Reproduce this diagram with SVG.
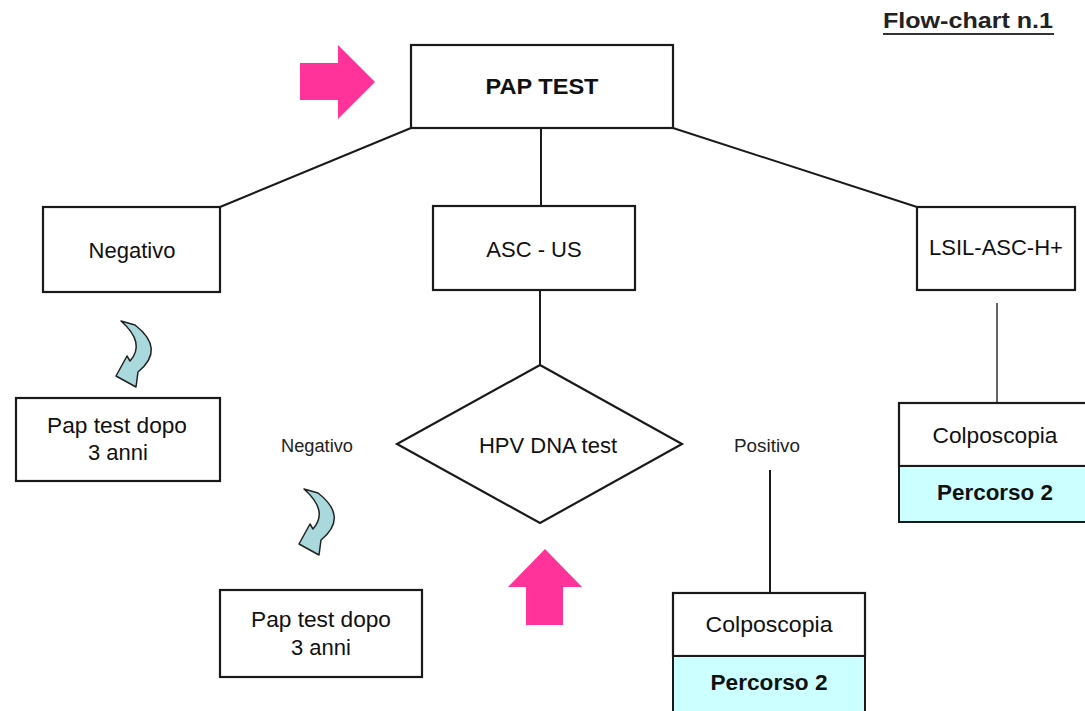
<svg xmlns="http://www.w3.org/2000/svg" width="1085" height="711" viewBox="0 0 1085 711">
<style>
.box{fill:#fff;stroke:#1a1a1a;stroke-width:2.2}
.cyan{fill:#ccffff;stroke:#1a1a1a;stroke-width:2}
.conn{stroke:#1a1a1a;stroke-width:2;fill:none}
.gconn{stroke:#666;stroke-width:2;fill:none}
.t{font-family:"Liberation Sans",Arial,sans-serif;font-size:22px;fill:#111;text-anchor:middle}
.b{font-weight:bold}
.s{font-family:"Liberation Sans",Arial,sans-serif;font-size:18px;fill:#222;text-anchor:middle}
.pink{fill:#ff3399}
.curl{fill:#a9d9dc;stroke:#222;stroke-width:1.5;stroke-linejoin:round}
</style>
<defs>
<path id="curl" class="curl" d="M121,321 L135,325 Q166,349 138,372 L136,387 L116,376 L127,356 L130,361 Q146,343 121,321 Z"/>
</defs>
<rect width="1085" height="711" fill="#fff"/>

<g id="title">
<text x="968" y="28" class="t b" font-size="20" textLength="170" lengthAdjust="spacingAndGlyphs" style="fill:#222">Flow-chart n.1</text>
<line x1="883" y1="34" x2="1054" y2="34" stroke="#333" stroke-width="2"/>
</g>

<g id="connectors">
<line class="conn" x1="411" y1="128" x2="220" y2="207"/>
<line class="conn" x1="541" y1="128" x2="541" y2="206"/>
<line class="conn" x1="673" y1="128" x2="917" y2="207"/>
<line class="conn" x1="540" y1="290" x2="540" y2="365"/>
<line class="conn" x1="770" y1="470" x2="770" y2="593"/>
<line class="gconn" x1="997" y1="303" x2="997" y2="403"/>
</g>

<g id="arrow-right">
<polygon class="pink" points="300,63 338,63 338,45 375,82 338,119 338,100 300,100"/>
</g>

<g id="pap-test">
<rect class="box" x="411" y="45" width="262" height="83"/>
<text x="542" y="94" class="t b" font-size="20" textLength="113" lengthAdjust="spacingAndGlyphs">PAP TEST</text>
</g>

<g id="negativo">
<rect class="box" x="43" y="207" width="177" height="85"/>
<text x="132" y="258" class="t">Negativo</text>
</g>

<g id="asc-us">
<rect class="box" x="433" y="206" width="202" height="84"/>
<text x="534" y="257" class="t">ASC - US</text>
</g>

<g id="lsil">
<rect class="box" x="917" y="207" width="158" height="83"/>
<text x="996" y="255" class="t">LSIL-ASC-H+</text>
</g>

<g id="curl1">
<use href="#curl"/>
</g>

<g id="pap-dopo-1">
<rect class="box" x="16" y="398" width="204" height="83"/>
<text x="117" y="433" class="t" textLength="140" lengthAdjust="spacingAndGlyphs">Pap test dopo</text>
<text x="118" y="460" class="t">3 anni</text>
</g>

<g id="hpv">
<polygon class="box" points="540,365 682,444 540,523 397,444"/>
<text x="548" y="453" class="t">HPV DNA test</text>
</g>

<g id="label-negativo">
<text x="317" y="452" class="s" textLength="72" lengthAdjust="spacingAndGlyphs">Negativo</text>
</g>

<g id="label-positivo">
<text x="767" y="452" class="s" textLength="66" lengthAdjust="spacingAndGlyphs">Positivo</text>
</g>

<g id="curl2">
<use href="#curl" transform="translate(183,168)"/>
</g>

<g id="arrow-up">
<polygon class="pink" points="545,549 582,587 563,587 563,625 526,625 526,587 508,587"/>
</g>

<g id="pap-dopo-2">
<rect class="box" x="220" y="590" width="202" height="87"/>
<text x="321" y="627" class="t" textLength="140" lengthAdjust="spacingAndGlyphs">Pap test dopo</text>
<text x="321" y="655" class="t">3 anni</text>
</g>

<g id="colpo-2">
<rect class="box" x="673" y="593" width="192" height="63"/>
<rect class="cyan" x="673" y="656" width="192" height="56"/>
<text x="769" y="632" class="t" textLength="127" lengthAdjust="spacingAndGlyphs">Colposcopia</text>
<text x="769" y="690" class="t b" textLength="117" lengthAdjust="spacingAndGlyphs">Percorso 2</text>
</g>

<g id="colpo-1">
<rect class="box" x="899" y="403" width="190" height="63"/>
<rect class="cyan" x="899" y="466" width="190" height="56"/>
<text x="995" y="443" class="t" textLength="125" lengthAdjust="spacingAndGlyphs">Colposcopia</text>
<text x="995" y="500" class="t b" textLength="116" lengthAdjust="spacingAndGlyphs">Percorso 2</text>
</g>
</svg>
